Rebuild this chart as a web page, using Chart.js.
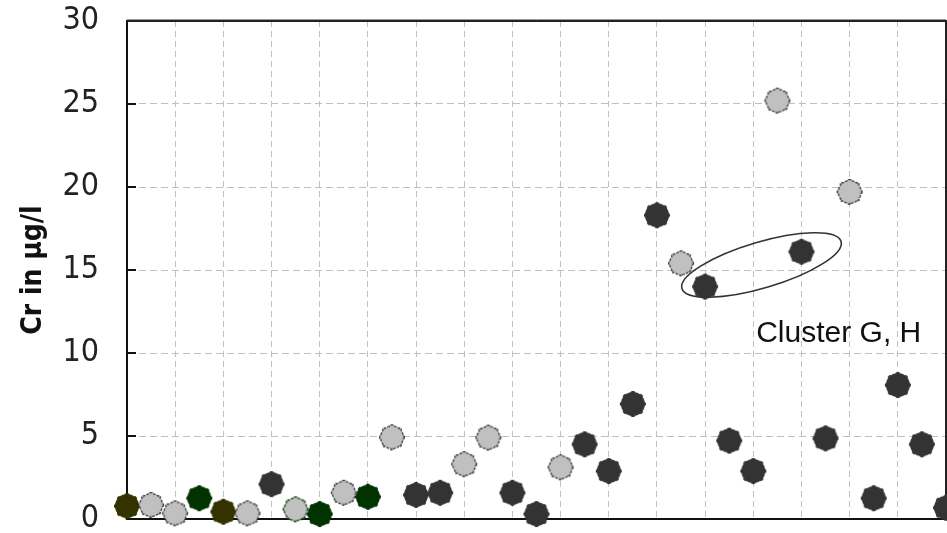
<!DOCTYPE html>
<html><head><meta charset="utf-8">
<script src="https://cdn.jsdelivr.net/npm/chart.js@4.4.1/dist/chart.umd.min.js"></script>
<style>html,body{margin:0;padding:0;background:#fff;} #wrap{width:947px;height:533px;}</style>
</head><body><div id="wrap"><canvas id="c" width="947" height="533"></canvas></div>
<script>
// ---- data ----
const samplePositions = [0, 0.5, 1, 1.5, 2, 2.5, 3, 3.5, 4, 4.5, 5, 5.5, 6, 6.5, 7, 7.5, 8, 8.5, 9, 9.5, 10, 10.5, 11, 11.5, 12, 12.5, 13, 13.5, 14, 14.5, 15, 15.5, 16, 16.5, 17];
const crValues = [0.78, 0.84, 0.34, 1.25, 0.44, 0.34, 2.1, 0.58, 0.30, 1.58, 1.34, 4.92, 1.45, 1.58, 3.3, 4.9, 1.58, 0.30, 3.11, 4.5, 2.89, 6.93, 18.3, 15.4, 14.0, 4.72, 2.89, 25.2, 16.1, 4.86, 19.7, 1.25, 8.07, 4.5, 0.68];
const sampleGroups = ['olive','light','light','green','olive','light','dark','lightGreen','green','light','green','light','dark','dark','light','light','dark','dark','light','dark','dark','dark','dark','light','dark','dark','dark','light','dark','dark','light','dark','dark','dark','dark'];
const groupNames = ['dark', 'light', 'green', 'olive', 'lightGreen'];
const yTicks = [0, 5, 10, 15, 20, 25, 30];
const yAxisTitle = 'Cr in µg/l';
const clusterLabel = 'Cluster G, H';
const clusterCenter = {x: 13.17, y: 15.3};
const clusterLabelPos = {x: 13.06, y: 10.66};

// ---- styles ----
const groupStyles = {
  dark:       {fill: '#333333', stroke: '#333333', dashed: false},
  light:      {fill: '#c0c0c0', stroke: '#333333', dashed: true},
  green:      {fill: '#003300', stroke: '#003300', dashed: false},
  olive:      {fill: '#333300', stroke: '#333300', dashed: false},
  lightGreen: {fill: '#c0c0c0', stroke: '#003300', dashed: true}
};

function makeMarker(st) {
  const s = 28, c = document.createElement('canvas');
  c.width = s; c.height = s;
  const g = c.getContext('2d');
  const cx = s / 2, cy = s / 2;
  g.beginPath();
  for (let i = 0; i <= 360; i++) {
    const a = i * Math.PI / 180;
    const m = ((i % 45) + 45) % 45;
    const d = Math.min(m, 45 - m);
    const r = d <= 5 ? 12.4 : 11.4;
    const px = cx + r * Math.cos(a), py = cy + r * Math.sin(a);
    if (i === 0) g.moveTo(px, py); else g.lineTo(px, py);
  }
  g.closePath();
  g.fillStyle = st.fill;
  g.fill();
  g.lineWidth = 1.2;
  g.strokeStyle = st.stroke;
  if (st.dashed) g.setLineDash([3, 1.2]);
  g.stroke();
  return c;
}

const datasets = groupNames.map(name => {
  const pts = [];
  sampleGroups.forEach((gname, i) => { if (gname === name) pts.push({x: samplePositions[i], y: crValues[i]}); });
  return {
    label: name, data: pts, pointStyle: makeMarker(groupStyles[name]), pointRadius: 13, pointHoverRadius: 13,
    backgroundColor: groupStyles[name].fill, borderColor: groupStyles[name].stroke, clip: false, showLine: false
  };
});

const framePlugin = {
  id: 'frame',
  beforeDatasetsDraw(chart) {
    const {ctx, chartArea: a, scales: {y}} = chart;
    ctx.save();
    ctx.strokeStyle = '#222';
    ctx.lineWidth = 2;
    ctx.beginPath();
    ctx.moveTo(a.left, a.top); ctx.lineTo(a.right, a.top); ctx.lineTo(a.right, a.bottom);
    ctx.stroke();
    ctx.strokeStyle = '#999';
    ctx.lineWidth = 1;
    ctx.beginPath(); ctx.moveTo(a.left, a.top - 1.5); ctx.lineTo(a.right, a.top - 1.5); ctx.stroke();
    ctx.strokeStyle = '#111';
    ctx.lineWidth = 2;
    yTicks.forEach(v => {
      if (v === 0 || v === 30) return;
      const py = Math.round(y.getPixelForValue(v));
      ctx.beginPath(); ctx.moveTo(a.left, py); ctx.lineTo(a.left + 9, py); ctx.stroke();
    });
    ctx.restore();
  },
  afterDatasetsDraw(chart) {
    const {ctx, scales: {x, y}} = chart;
    ctx.save();
    const cx = x.getPixelForValue(clusterCenter.x), cy = y.getPixelForValue(clusterCenter.y);
    ctx.strokeStyle = '#333';
    ctx.lineWidth = 1.6;
    ctx.beginPath();
    ctx.ellipse(cx, cy, 83, 23, -16.5 * Math.PI / 180, 0, 2 * Math.PI);
    ctx.stroke();
    ctx.fillStyle = '#111';
    ctx.font = '30px "Liberation Sans", Arial, sans-serif';
    ctx.textAlign = 'left';
    ctx.textBaseline = 'alphabetic';
    ctx.fillText(clusterLabel, x.getPixelForValue(clusterLabelPos.x), y.getPixelForValue(clusterLabelPos.y));
    ctx.restore();
  }
};

new Chart(document.getElementById('c'), {
  type: 'scatter',
  data: {datasets},
  options: {
    responsive: false, animation: false, devicePixelRatio: 1,
    layout: {autoPadding: false, padding: {top: 21, right: 1, bottom: 14, left: 0}},
    plugins: {legend: {display: false}, tooltip: {enabled: false}},
    scales: {
      x: {
        type: 'linear', min: 0, max: 17,
        ticks: {display: false, stepSize: 1, maxTicksLimit: 100},
        grid: {color: '#c0c0c0', lineWidth: 1, drawTicks: false},
        border: {display: true, color: '#111', width: 2, dash: [6, 4]},
        afterFit(s) { s.height = 0; s.paddingLeft = 0; s.paddingRight = 0; }
      },
      y: {
        type: 'linear', min: 0, max: 30,
        afterBuildTicks(s) { s.ticks = yTicks.map(v => ({value: v})); },
        ticks: {color: '#222', padding: 28, font: {family: '"Liberation Sans Narrow", "DejaVu Sans Condensed", sans-serif', size: 32, lineHeight: 1}},
        grid: {color: '#c0c0c0', lineWidth: 1, drawTicks: false},
        border: {display: true, color: '#111', width: 2, dash: [7, 4]},
        title: {display: true, text: yAxisTitle, color: '#111',
          font: {family: '"Liberation Sans Narrow", "DejaVu Sans Condensed", sans-serif', size: 28, weight: 'bold', lineHeight: 1.2},
          padding: {top: 17, bottom: 0}},
        afterFit(s) { s.width = 127; s.paddingTop = 0; s.paddingBottom = 0; }
      }
    }
  },
  plugins: [framePlugin]
});
</script>
</body></html>
